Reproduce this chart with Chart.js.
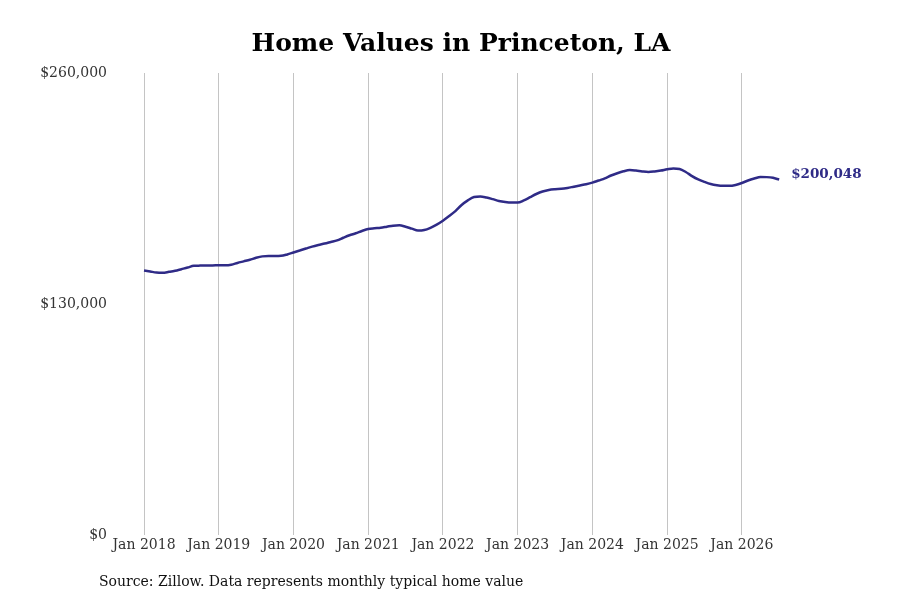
<!DOCTYPE html>
<html>
<head>
<meta charset="utf-8">
<script src="https://cdn.jsdelivr.net/npm/chart.js@4/dist/chart.umd.min.js"></script>
<style>
  html, body { margin: 0; padding: 0; background: #fff; }
  #wrap { width: 900px; height: 600px; }
</style>
</head>
<body>
<div id="wrap"><canvas id="c" width="900" height="600"></canvas></div>
<script>
const chartTitle = "Home Values in Princeton, LA";
const sourceNote = "Source: Zillow. Data represents monthly typical home value";
const startYear = 2018;
const tickYears = [2018, 2019, 2020, 2021, 2022, 2023, 2024, 2025, 2026];
const yTicks = [0, 130000, 260000];
// Monthly typical home value, Jan 2018 .. Jul 2026
const homeValues = [
  148900, 148300, 147700, 147600, 148100, 148700, 149600, 150500, 151500, 151600, 151700, 151700,
  151800, 151800, 152100, 153100, 154000, 154900, 156000, 156800, 157000, 157000, 157100, 157900,
  159000, 160100, 161200, 162300, 163200, 164000, 164900, 165800, 167300, 168700, 169800, 171100,
  172200, 172600, 172900, 173500, 174100, 174300, 173500, 172400, 171300, 171600, 172900, 174700,
  176900, 179500, 182300, 185700, 188300, 190200, 190500, 189900, 189000, 188000, 187400, 187100,
  187100, 188300, 190100, 191900, 193300, 194200, 194600, 194800, 195300, 196000, 196700, 197400,
  198300, 199500, 200700, 202300, 203600, 204700, 205400, 205100, 204600, 204300, 204600, 205100,
  205800, 206300, 206000, 204300, 202000, 200100, 198700, 197500, 196800, 196500, 196500, 197000,
  198100, 199500, 200600, 201500, 201400, 201000, 200048
];

const lineColor = '#2f2b87';
const points = homeValues.map((v, i) => ({ x: i, y: v }));
const fmt = v => '$' + Math.round(v).toLocaleString('en-US');

const decorPlugin = {
  id: 'decor',
  afterDraw(chart) {
    const ctx = chart.ctx;
    ctx.save();
    // title
    ctx.fillStyle = '#000';
    ctx.font = 'bold 25px "DejaVu Serif"';
    ctx.textAlign = 'center';
    ctx.textBaseline = 'middle';
    ctx.fillText(chartTitle, 461, 44);
    // source
    ctx.font = '14px "DejaVu Serif"';
    ctx.textAlign = 'left';
    ctx.fillStyle = '#111';
    ctx.fillText(sourceNote, 99, 582);
    // end label
    const meta = chart.getDatasetMeta(0);
    const last = meta.data[meta.data.length - 1];
    ctx.font = 'bold 13.5px "DejaVu Serif"';
    ctx.fillStyle = lineColor;
    ctx.textAlign = 'left';
    ctx.fillText(fmt(homeValues[homeValues.length - 1]), last.x + 12, last.y - 5);
    ctx.restore();
  }
};

new Chart(document.getElementById('c'), {
  type: 'line',
  data: {
    datasets: [{
      data: points,
      borderColor: lineColor,
      borderWidth: 2.5,
      pointRadius: 0,
      tension: 0.4,
      cubicInterpolationMode: 'monotone',
      fill: false
    }]
  },
  options: {
    responsive: false,
    animation: false,
    devicePixelRatio: 1,
    layout: { padding: { left: 25, right: 71, top: 73, bottom: 40 } },
    plugins: {
      legend: { display: false },
      title: { display: false },
      tooltip: { enabled: false }
    },
    scales: {
      x: {
        type: 'linear',
        min: -4.66,
        max: 110,
        afterBuildTicks(scale) {
          scale.ticks = tickYears.map(y => ({ value: (y - startYear) * 12 }));
        },
        afterFit(scale) { scale.height = 25; },
        grid: { display: true, drawTicks: false, color: '#c4c4c4', lineWidth: 1 },
        border: { display: false },
        ticks: {
          padding: 2,
          maxRotation: 0,
          autoSkip: false,
          color: '#333',
          font: { family: 'DejaVu Serif', size: 14 },
          callback: v => 'Jan ' + (startYear + Math.round(v / 12))
        }
      },
      y: {
        min: 0,
        max: 260000,
        afterBuildTicks(scale) {
          scale.ticks = yTicks.map(v => ({ value: v }));
        },
        afterFit(scale) { scale.width = 90; },
        grid: { display: false, drawTicks: false },
        border: { display: false },
        ticks: {
          padding: 8,
          color: '#333',
          font: { family: 'DejaVu Serif', size: 14 },
          callback: v => fmt(v)
        }
      }
    }
  },
  plugins: [decorPlugin]
});
</script>
</body>
</html>
